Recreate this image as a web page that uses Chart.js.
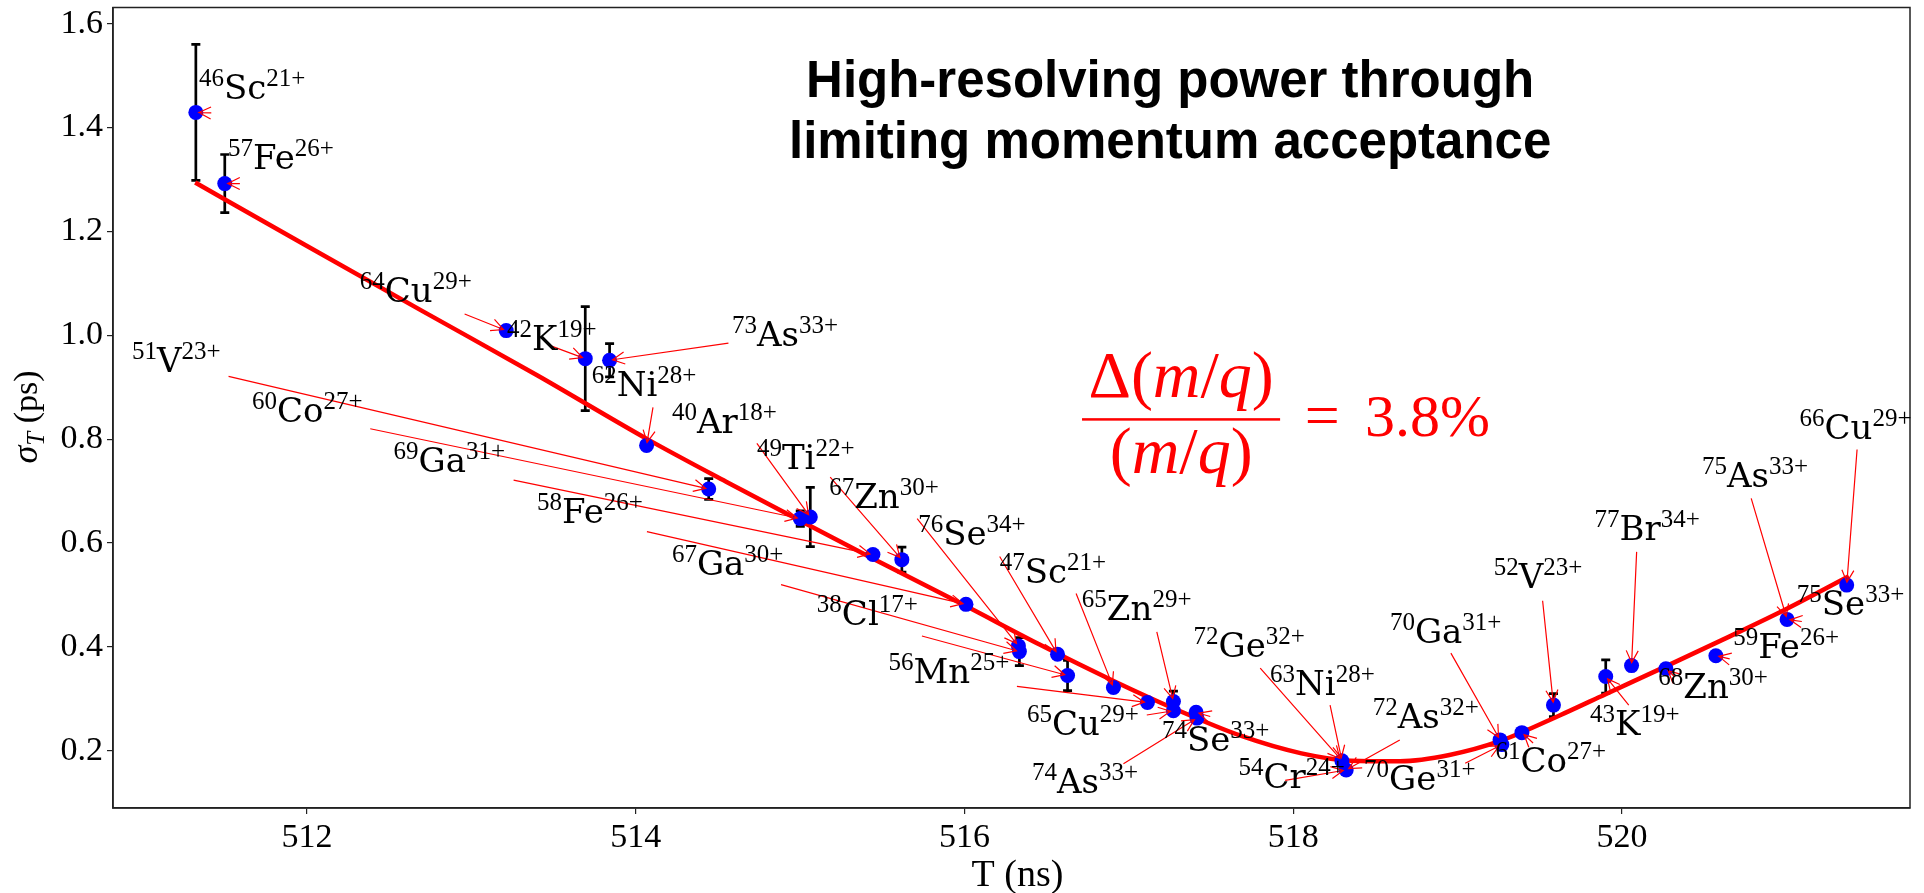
<!DOCTYPE html>
<html>
<head>
<meta charset="utf-8">
<script src="https://cdn.jsdelivr.net/npm/chart.js@4.4.1/dist/chart.umd.min.js"></script>
<style>
  html, body { margin: 0; padding: 0; background: #fff; }
  #wrap { width: 1924px; height: 893px; }
</style>
</head>
<body>
<div id="wrap"><canvas id="chart" width="1924" height="893"></canvas></div>
<script>
// time of flight T (ns) and width sigma_T (ps) of each measured ion
const tof = [511.324, 511.500, 513.212, 513.693, 513.841, 514.066, 514.444, 515.001, 515.062, 515.443,
             515.619, 516.009, 516.328, 516.334, 516.566, 516.627, 516.906, 517.113, 517.271, 517.271,
             517.409, 517.414, 518.296, 518.322, 519.258, 519.269, 519.391, 519.583, 519.901, 520.058,
             520.267, 520.571, 521.004, 521.367];
const sigma = [1.429, 1.292, 1.009, 0.955, 0.952, 0.788, 0.704, 0.647, 0.650, 0.578,
               0.568, 0.482, 0.402, 0.391, 0.386, 0.345, 0.322, 0.293, 0.295, 0.277,
               0.274, 0.263, 0.181, 0.163, 0.221, 0.212, 0.235, 0.288, 0.343, 0.364,
               0.358, 0.383, 0.453, 0.519];
const sigmaErr = [0.131, 0.056, 0, 0.100, 0.032, 0, 0.020, 0.015, 0.057, 0,
                  0.024, 0, 0, 0.027, 0, 0.029, 0, 0, 0.020, 0,
                  0, 0, 0, 0, 0, 0, 0, 0.022, 0.032, 0,
                  0, 0, 0, 0];

// isochronicity fit curve
const fitT = [511.32, 512.0, 512.7, 513.4, 514.07, 514.55, 515.03, 515.45, 516.0, 516.46, 516.91,
              517.27, 517.68, 518.05, 518.35, 518.65, 518.95, 519.26, 519.62, 519.9, 520.27, 520.62, 521.0, 521.38];
const fitS = [1.294, 1.172, 1.047, 0.923, 0.800, 0.718, 0.638, 0.569, 0.480, 0.404, 0.334,
              0.282, 0.229, 0.195, 0.181, 0.180, 0.192, 0.219, 0.268, 0.309, 0.363, 0.415, 0.473, 0.536];

// ion names; ionPoint is the index of the measurement each name points at
const ionMass   = [46, 57, 64, 42, 73, 62, 51, 60, 40, 69, 49, 58, 67, 67, 76, 38, 47, 56, 65, 65,
                   74, 74, 72, 63, 54, 72, 70, 70, 61, 52, 43, 77, 68, 59, 75, 75, 66];
const ionSymbol = ['Sc', 'Fe', 'Cu', 'K', 'As', 'Ni', 'V', 'Co', 'Ar', 'Ga', 'Ti', 'Fe', 'Zn', 'Ga', 'Se', 'Cl', 'Sc', 'Mn', 'Zn', 'Cu',
                   'Se', 'As', 'Ge', 'Ni', 'Cr', 'As', 'Ge', 'Ga', 'Co', 'V', 'K', 'Br', 'Zn', 'Fe', 'As', 'Se', 'Cu'];
const ionCharge = [21, 26, 29, 19, 33, 28, 23, 27, 18, 31, 22, 26, 30, 30, 34, 17, 21, 25, 29, 29,
                   33, 33, 32, 28, 24, 32, 31, 31, 27, 23, 19, 34, 30, 26, 33, 33, 29];
const ionPoint  = [0, 1, 2, 3, 4, 5, 6, 7, 8, 9, 10, 11, 12, 13, 14, 15, 16, 17, 18, 19,
                   20, 21, 22, 22, 23, 23, 25, 24, 26, 27, 28, 29, 30, 31, 32, 32, 33];

const xTicks = [512, 514, 516, 518, 520];
const yTicks = [0.2, 0.4, 0.6, 0.8, 1.0, 1.2, 1.4, 1.6];

// label placement in axis units: [text T, text sigma (baseline), arrow start T, arrow start sigma]
const labelAt = [
  [511.343, 1.455, 511.418, 1.428], [511.519, 1.320, 511.592, 1.292], [512.321, 1.064, 512.959, 1.041],
  [513.217, 0.971, 513.480, 0.980], [514.585, 0.980, 514.564, 0.985], [513.732, 0.884, 514.105, 0.861],
  [510.936, 0.929, 511.523, 0.921], [511.665, 0.833, 512.385, 0.820], [514.220, 0.811, 514.737, 0.792],
  [512.527, 0.737, 513.257, 0.721], [514.737, 0.743, 515.183, 0.727], [513.399, 0.638, 514.068, 0.622],
  [515.177, 0.667, 515.712, 0.647], [514.220, 0.538, 514.884, 0.520], [515.718, 0.596, 516.214, 0.574],
  [515.102, 0.442, 515.741, 0.421], [516.214, 0.524, 516.679, 0.503], [515.538, 0.330, 516.319, 0.324],
  [516.714, 0.452, 517.170, 0.429], [516.380, 0.231, 517.109, 0.269], [517.201, 0.199, 517.495, 0.266],
  [516.410, 0.119, 516.967, 0.175], [517.393, 0.381, 517.799, 0.359], [517.859, 0.308, 518.224, 0.288],
  [517.667, 0.128, 517.951, 0.143], [518.483, 0.244, 518.648, 0.221], [518.431, 0.125, 519.046, 0.176],
  [518.588, 0.407, 518.959, 0.388], [519.230, 0.160, 519.459, 0.215], [519.220, 0.513, 519.517, 0.489],
  [519.806, 0.231, 520.041, 0.288], [519.832, 0.606, 520.089, 0.583], [520.221, 0.301, 520.319, 0.343],
  [520.676, 0.378, 520.655, 0.377], [520.487, 0.708, 520.786, 0.686], [521.063, 0.461, 521.094, 0.449],
  [521.080, 0.801, 521.430, 0.780]
];

const SUP = '25px "Liberation Serif"';
const SYM = '34px "DejaVu Serif"';
const RED = '#ff0000';

function drawRun(ctx, parts, x, y) {
  for (const [text, font, rise] of parts) {
    ctx.font = font;
    ctx.fillText(text, x, y - rise);
    x += ctx.measureText(text).width;
  }
  return x;
}

function runWidth(ctx, parts) {
  let w = 0;
  for (const [text, font] of parts) { ctx.font = font; w += ctx.measureText(text).width; }
  return w;
}

function arrow(ctx, x0, y0, x1, y1) {
  const dx = x1 - x0, dy = y1 - y0, len = Math.hypot(dx, dy) || 1;
  const ux = dx / len, uy = dy / len;
  const tx = x1 - ux * 3, ty = y1 - uy * 3;
  const hl = 12, hw = 6;
  ctx.beginPath();
  ctx.moveTo(x0, y0);
  ctx.lineTo(tx, ty);
  ctx.moveTo(tx - ux * hl - uy * hw, ty - uy * hl + ux * hw);
  ctx.lineTo(tx, ty);
  ctx.lineTo(tx - ux * hl + uy * hw, ty - uy * hl - ux * hw);
  ctx.stroke();
}

const extras = {
  id: 'extras',
  beforeDatasetsDraw(chart) {
    const { ctx, scales: { x, y } } = chart;
    ctx.save();
    ctx.strokeStyle = '#000';
    ctx.lineWidth = 2.7;
    tof.forEach((t, i) => {
      const e = sigmaErr[i];
      if (!e) return;
      const px = x.getPixelForValue(t);
      const top = y.getPixelForValue(sigma[i] + e);
      const bot = y.getPixelForValue(sigma[i] - e);
      ctx.beginPath();
      ctx.moveTo(px, top); ctx.lineTo(px, bot);
      ctx.moveTo(px - 4.5, top); ctx.lineTo(px + 4.5, top);
      ctx.moveTo(px - 4.5, bot); ctx.lineTo(px + 4.5, bot);
      ctx.stroke();
    });
    ctx.restore();
  },
  afterDatasetsDraw(chart) {
    const { ctx, chartArea: a, scales: { x, y } } = chart;
    ctx.save();

    // frame on top and right
    ctx.strokeStyle = '#222';
    ctx.lineWidth = 1.5;
    ctx.strokeRect(a.left, a.top, a.right - a.left, a.bottom - a.top);

    // arrows, then ion names
    ctx.strokeStyle = RED;
    ctx.lineWidth = 1.2;
    labelAt.forEach((p, i) => {
      const k = ionPoint[i];
      arrow(ctx, x.getPixelForValue(p[2]), y.getPixelForValue(p[3]),
            x.getPixelForValue(tof[k]), y.getPixelForValue(sigma[k]));
    });
    ctx.fillStyle = '#000';
    ctx.textBaseline = 'alphabetic';
    ctx.textAlign = 'left';
    labelAt.forEach((p, i) => {
      drawRun(ctx, [[String(ionMass[i]), SUP, 13], [ionSymbol[i], SYM, 0], [ionCharge[i] + '+', SUP, 13]],
              x.getPixelForValue(p[0]), y.getPixelForValue(p[1]));
    });

    // heading
    ctx.font = 'bold 51px "Liberation Sans"';
    ctx.textAlign = 'center';
    ctx.fillText('High-resolving power through', x.getPixelForValue(517.251), y.getPixelForValue(1.458));
    ctx.fillText('limiting momentum acceptance', x.getPixelForValue(517.251), y.getPixelForValue(1.342));

    // resolution formula
    ctx.textAlign = 'left';
    ctx.fillStyle = RED;
    const up = '66px "Liberation Serif"', it = 'italic 66px "Liberation Serif"';
    const num = [['\u0394', up, 0], ['(', up, 0], ['m', it, 0], ['/', up, 0], ['q', it, 0], [')', up, 0]];
    const den = [['(', up, 0], ['m', it, 0], ['/', up, 0], ['q', it, 0], [')', up, 0]];
    const cx = x.getPixelForValue(517.318);
    drawRun(ctx, num, cx - runWidth(ctx, num) / 2, y.getPixelForValue(0.882));
    drawRun(ctx, den, cx - runWidth(ctx, den) / 2, y.getPixelForValue(0.734));
    ctx.fillRect(x.getPixelForValue(516.715), y.getPixelForValue(0.838) - 1.25,
                 x.getPixelForValue(517.920) - x.getPixelForValue(516.715), 2.5);
    ctx.font = '62px "Liberation Serif"';
    ctx.fillText('=', x.getPixelForValue(518.070), y.getPixelForValue(0.807));
    ctx.font = '60px "Liberation Serif"';
    ctx.fillText('3.8%', x.getPixelForValue(518.437), y.getPixelForValue(0.807));

    // axis titles
    ctx.fillStyle = '#000';
    ctx.font = '38px "Liberation Serif"';
    ctx.textAlign = 'center';
    ctx.fillText('T (ns)', (a.left + a.right) / 2 + 6, 886);
    ctx.translate(37, 417);
    ctx.rotate(-Math.PI / 2);
    const yt = [['\u03c3', 'italic 36px "Liberation Serif"', 0], ['T', 'italic 25px "Liberation Serif"', -7],
                [' (ps)', '34px "Liberation Serif"', 0]];
    ctx.textAlign = 'left';
    drawRun(ctx, yt, -runWidth(ctx, yt) / 2, 0);
    ctx.restore();
  }
};

const tickFont = { family: 'Liberation Serif', size: 34 };

new Chart(document.getElementById('chart'), {
  type: 'scatter',
  data: {
    datasets: [
      {
        data: tof.map((t, i) => ({ x: t, y: sigma[i] })),
        backgroundColor: '#0000ff',
        borderWidth: 0,
        pointRadius: 7.5,
        order: 1
      },
      {
        data: fitT.map((t, i) => ({ x: t, y: fitS[i] })),
        showLine: true,
        borderColor: RED,
        borderWidth: 4.5,
        pointRadius: 0,
        cubicInterpolationMode: 'monotone',
        order: 2
      }
    ]
  },
  options: {
    responsive: false,
    animation: false,
    events: [],
    layout: { padding: { left: 0, top: 7, right: 14, bottom: 0 } },
    plugins: { legend: { display: false }, tooltip: { enabled: false } },
    scales: {
      x: {
        type: 'linear',
        min: 510.82,
        max: 521.752,
        afterBuildTicks: s => { s.ticks = xTicks.map(v => ({ value: v })); },
        afterFit: s => { s.height = 85; s.paddingLeft = 0; s.paddingRight = 0; },
        grid: { drawOnChartArea: false, drawTicks: true, tickLength: 6, color: '#222', lineWidth: 1.2 },
        border: { display: true, color: '#222', width: 1.5 },
        ticks: { font: tickFont, color: '#000', padding: 4, maxRotation: 0, callback: v => String(v) }
      },
      y: {
        type: 'linear',
        min: 0.0899,
        max: 1.631,
        afterBuildTicks: s => { s.ticks = yTicks.map(v => ({ value: v })); },
        afterFit: s => { s.width = 113; s.paddingTop = 0; s.paddingBottom = 0; },
        grid: { drawOnChartArea: false, drawTicks: true, tickLength: 6, color: '#222', lineWidth: 1.2 },
        border: { display: true, color: '#222', width: 1.5 },
        ticks: { font: tickFont, color: '#000', padding: 4, callback: v => v.toFixed(1) }
      }
    }
  },
  plugins: [extras]
});
</script>
</body>
</html>
